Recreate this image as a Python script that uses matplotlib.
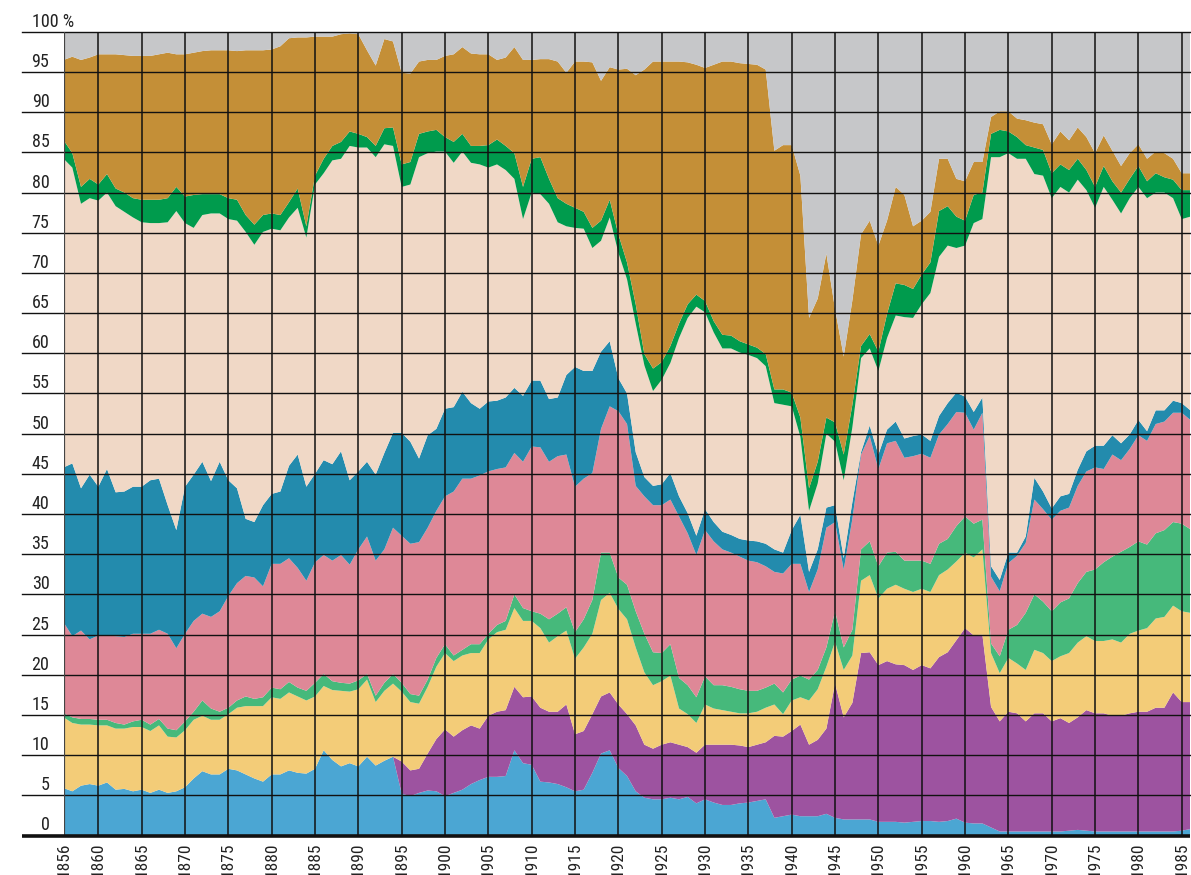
import os
import numpy as np
import matplotlib
matplotlib.use("Agg")
import matplotlib.pyplot as plt
import matplotlib.transforms as mtransforms
from matplotlib import font_manager

# roky 1856-1986
years = list(range(1856, 1987))

# horni hranice jednotlivych vrstev (kumulativne, v %)
top_light_blue = [
    5.9, 5.5, 6.2, 6.4, 6.2, 6.6, 5.7, 5.8, 5.5, 5.7,
    5.3, 5.7, 5.3, 5.5, 6.0, 7.1, 8.0, 7.6, 7.6, 8.3,
    8.1, 7.6, 7.1, 6.7, 7.6, 7.6, 8.1, 7.8, 7.7, 8.3,
    10.6, 9.4, 8.6, 9.0, 8.6, 9.8, 8.7, 9.3, 9.8, 5.2,
    4.9, 5.3, 5.6, 5.5, 4.9, 5.3, 5.7, 6.4, 6.9, 7.3,
    7.3, 7.4, 10.6, 9.0, 8.8, 6.7, 6.6, 6.4, 6.0, 5.5,
    5.7, 7.8, 10.2, 10.6, 8.4, 7.4, 5.5, 4.7, 4.5, 4.5,
    4.7, 4.5, 4.8, 4.0, 4.5, 4.1, 3.8, 3.8, 4.0, 4.1,
    4.3, 4.5, 2.2, 2.4, 2.6, 2.4, 2.4, 2.4, 2.7, 2.2,
    2.0, 2.0, 2.0, 2.0, 1.7, 1.7, 1.7, 1.6, 1.7, 1.8,
    1.8, 1.7, 1.8, 2.1, 1.6, 1.5, 1.5, 1.0, 0.5, 0.5,
    0.5, 0.5, 0.5, 0.5, 0.5, 0.5, 0.6, 0.7, 0.6, 0.5,
    0.5, 0.5, 0.5, 0.5, 0.5, 0.5, 0.5, 0.5, 0.5, 0.6,
    0.8,
]
# fialova vrstva zacina az v roce 1894
top_purple = top_light_blue[:38] + [
    9.8, 9.2,
    8.1, 8.3, 10.2, 12.0, 13.2, 12.3, 13.1, 13.7, 13.3, 14.9,
    15.4, 15.6, 18.5, 17.2, 17.3, 15.9, 15.4, 15.4, 16.3, 12.6,
    13.0, 15.1, 17.3, 17.8, 16.3, 15.1, 13.7, 11.3, 10.8, 11.3,
    11.6, 11.3, 11.0, 10.3, 11.3, 11.3, 11.3, 11.3, 11.2, 11.0,
    11.3, 11.6, 12.4, 12.3, 13.0, 13.8, 11.3, 11.9, 13.3, 18.9,
    14.7, 16.5, 22.7, 22.8, 21.2, 21.7, 21.3, 21.2, 20.6, 21.2,
    20.8, 22.2, 22.8, 24.3, 25.8, 24.9, 25.0, 16.0, 14.2, 15.4,
    15.2, 14.2, 15.2, 15.2, 14.2, 14.6, 14.0, 14.7, 15.6, 15.2,
    15.2, 14.9, 14.9, 15.2, 15.4, 15.4, 15.9, 15.9, 17.8, 16.6,
    16.6,
]
top_yellow = [
    14.7, 14.0, 13.8, 13.8, 13.7, 13.7, 13.3, 13.3, 13.5, 13.5,
    13.0, 13.7, 12.3, 12.2, 13.1, 14.4, 14.9, 14.4, 14.4, 15.1,
    15.9, 16.1, 16.1, 16.1, 17.2, 17.0, 17.8, 17.3, 16.8, 17.3,
    18.6, 18.1, 18.0, 17.9, 18.2, 19.4, 16.6, 18.0, 18.9, 17.9,
    16.6, 16.4, 18.5, 21.0, 22.7, 21.7, 22.4, 22.7, 22.7, 24.4,
    25.3, 25.6, 28.3, 26.7, 26.7, 25.8, 24.0, 24.8, 25.5, 22.0,
    23.4, 25.1, 29.3, 30.2, 28.2, 26.9, 23.4, 20.3, 18.7, 19.2,
    19.9, 15.8, 15.1, 14.0, 16.3, 15.8, 15.6, 15.4, 15.2, 15.2,
    15.4, 15.9, 16.3, 15.1, 16.8, 17.2, 16.8, 18.2, 21.0, 24.1,
    20.6, 22.4, 31.7, 32.4, 29.5, 30.7, 31.2, 30.7, 30.3, 30.7,
    30.3, 32.4, 33.1, 34.1, 35.2, 34.6, 35.6, 22.7, 20.2, 22.1,
    21.4, 20.6, 23.1, 22.7, 21.7, 22.3, 22.7, 24.0, 24.8, 24.2,
    24.2, 24.4, 24.0, 25.1, 25.5, 25.8, 27.0, 27.2, 28.6, 27.9,
    27.7,
]
top_light_green = [
    15.2, 14.7, 14.5, 14.5, 14.4, 14.4, 14.0, 13.8, 14.2, 14.4,
    13.8, 14.5, 13.3, 13.1, 14.2, 15.4, 16.8, 15.8, 15.4, 15.9,
    16.8, 17.3, 17.0, 17.2, 18.4, 18.2, 19.1, 18.4, 18.0, 19.0,
    20.1, 19.2, 19.0, 18.9, 19.3, 20.1, 17.4, 19.0, 20.1, 19.0,
    17.6, 17.4, 19.4, 22.1, 23.8, 22.4, 23.1, 23.8, 23.8, 25.1,
    26.2, 26.7, 30.0, 28.3, 27.9, 27.6, 26.9, 27.6, 28.4, 25.3,
    26.9, 29.3, 35.2, 35.2, 32.1, 31.2, 27.9, 25.1, 22.8, 22.7,
    23.8, 19.6, 18.7, 17.2, 19.8, 18.7, 18.7, 18.5, 18.2, 18.0,
    18.0, 18.4, 18.9, 17.8, 19.4, 19.9, 19.4, 20.6, 23.4, 27.9,
    23.4, 25.6, 35.6, 36.6, 33.5, 35.2, 35.3, 34.2, 34.2, 34.2,
    33.8, 36.3, 36.9, 38.5, 39.7, 38.8, 39.3, 23.9, 22.3, 25.6,
    26.2, 27.7, 30.0, 29.1, 27.9, 29.0, 29.5, 31.4, 32.8, 33.1,
    34.0, 34.7, 35.3, 35.9, 36.6, 36.2, 37.6, 38.0, 39.0, 38.8,
    38.1,
]
top_pink = [
    26.5, 24.8, 25.5, 24.4, 24.9, 24.9, 24.8, 24.7, 25.1, 25.1,
    25.1, 25.6, 25.1, 23.3, 25.1, 26.7, 27.6, 27.2, 27.9, 29.8,
    31.4, 32.3, 32.1, 31.0, 33.8, 33.8, 34.5, 33.3, 31.7, 34.0,
    34.9, 34.2, 34.9, 33.7, 35.6, 37.2, 34.2, 35.6, 38.3, 37.3,
    36.3, 36.5, 38.3, 40.4, 42.2, 42.8, 44.4, 44.4, 44.8, 45.3,
    45.6, 45.8, 47.6, 46.5, 48.4, 48.3, 46.5, 47.2, 47.4, 43.4,
    44.4, 45.1, 50.6, 53.4, 52.8, 51.2, 43.5, 42.2, 41.1, 41.1,
    41.8, 39.7, 37.6, 34.9, 38.0, 36.6, 35.6, 35.2, 34.7, 34.2,
    34.0, 33.5, 32.8, 32.6, 33.8, 33.8, 30.3, 33.1, 38.3, 39.0,
    33.1, 39.4, 47.4, 49.7, 45.6, 48.8, 49.1, 47.0, 47.2, 47.5,
    47.0, 49.9, 51.2, 52.7, 52.6, 50.5, 52.6, 32.2, 30.4, 33.9,
    34.8, 36.4, 41.8, 40.6, 39.3, 40.4, 40.8, 43.5, 45.3, 45.8,
    45.6, 47.4, 46.7, 48.1, 49.8, 49.1, 51.2, 51.5, 52.6, 52.6,
    51.7,
]
top_teal = [
    45.8, 46.3, 43.2, 44.9, 43.4, 45.6, 42.7, 42.8, 43.4, 43.4,
    44.2, 44.4, 41.1, 38.0, 43.4, 44.9, 46.5, 44.1, 46.5, 44.2,
    43.2, 39.4, 39.0, 41.1, 42.5, 42.8, 46.0, 47.4, 43.4, 45.0,
    46.7, 46.2, 47.8, 44.2, 45.3, 46.5, 44.9, 47.6, 50.1, 50.1,
    49.0, 46.9, 49.8, 50.6, 53.1, 53.3, 55.2, 53.8, 53.1, 54.0,
    54.1, 54.5, 55.7, 54.7, 56.6, 56.6, 54.3, 54.5, 57.3, 58.3,
    57.8, 57.8, 60.2, 61.5, 56.9, 55.0, 47.7, 44.6, 43.5, 43.7,
    45.1, 42.2, 40.1, 37.3, 40.6, 39.0, 37.8, 37.4, 36.9, 36.7,
    36.6, 36.3, 35.6, 35.2, 38.0, 39.9, 32.8, 35.6, 40.8, 41.1,
    34.5, 41.5, 47.7, 51.0, 47.4, 50.5, 51.5, 49.4, 49.7, 49.9,
    49.1, 52.2, 53.8, 55.1, 54.6, 52.7, 54.5, 33.5, 31.8, 35.2,
    35.2, 37.2, 44.5, 42.8, 40.7, 42.2, 42.5, 45.5, 47.8, 48.5,
    48.5, 49.8, 48.8, 49.9, 51.7, 50.3, 52.9, 52.9, 54.1, 53.8,
    52.9,
]
top_peach = [
    84.2, 83.1, 78.6, 79.3, 79.0, 80.0, 78.3, 77.6, 76.9, 76.3,
    76.2, 76.2, 76.3, 77.7, 76.2, 75.6, 77.2, 77.4, 77.4, 76.7,
    76.5, 75.1, 73.5, 75.1, 75.5, 75.3, 76.9, 78.1, 74.4, 81.0,
    82.4, 84.0, 84.2, 85.8, 85.6, 85.6, 84.4, 86.0, 85.8, 80.7,
    81.0, 84.4, 84.9, 85.1, 85.1, 83.7, 85.1, 83.7, 83.5, 83.1,
    83.5, 82.8, 81.7, 76.7, 80.0, 79.8, 78.6, 76.3, 75.8, 75.6,
    75.5, 73.1, 74.0, 76.9, 72.5, 69.2, 63.7, 58.5, 55.3, 56.7,
    58.8, 61.9, 64.4, 65.8, 65.1, 62.6, 60.6, 60.6, 60.1, 59.8,
    59.4, 58.4, 53.8, 53.6, 53.4, 49.6, 40.4, 43.8, 50.0, 49.0,
    44.2, 50.8, 59.4, 60.6, 57.8, 61.9, 64.7, 64.5, 64.4, 66.1,
    67.5, 72.0, 73.4, 73.1, 73.4, 76.2, 76.7, 84.4, 84.4, 84.9,
    84.2, 84.2, 82.3, 82.1, 79.3, 80.7, 80.0, 81.6, 80.3, 78.1,
    80.7, 79.1, 77.4, 79.3, 80.7, 79.3, 80.0, 80.0, 79.3, 76.7,
    77.0,
]
top_dark_green = [
    86.5, 84.9, 80.7, 81.7, 81.0, 82.3, 80.5, 80.0, 79.3, 79.1,
    79.1, 79.1, 79.3, 80.7, 79.5, 79.7, 79.8, 79.8, 79.8, 79.3,
    79.1, 77.2, 76.0, 77.2, 77.4, 77.2, 78.8, 80.5, 75.8, 82.1,
    84.2, 85.8, 86.3, 87.6, 87.3, 86.9, 85.8, 88.0, 88.1, 83.5,
    83.8, 87.3, 87.6, 87.8, 86.9, 86.3, 87.3, 85.8, 85.8, 85.9,
    86.6, 85.8, 84.9, 80.7, 84.2, 84.4, 81.7, 79.3, 78.6, 78.1,
    77.6, 75.6, 76.5, 79.1, 74.8, 71.3, 66.1, 59.9, 58.1, 58.9,
    60.9, 63.7, 66.1, 67.3, 66.5, 64.0, 62.3, 62.2, 61.5, 61.1,
    60.7, 59.9, 55.5, 55.5, 55.1, 52.0, 43.2, 46.5, 52.0, 51.4,
    47.4, 53.6, 60.9, 62.4, 60.2, 64.9, 68.7, 68.5, 68.0, 69.8,
    71.3, 77.7, 78.3, 77.0, 76.5, 79.7, 80.0, 87.3, 87.8, 87.6,
    86.9, 85.9, 85.6, 85.3, 82.4, 83.5, 82.8, 84.2, 82.8, 80.7,
    83.3, 81.4, 80.0, 81.7, 83.3, 81.4, 82.4, 81.9, 81.6, 80.3,
    80.3,
]
top_gold = [
    96.5, 96.9, 96.5, 96.8, 97.2, 97.2, 97.2, 97.1, 97.0, 97.0,
    97.0, 97.2, 97.4, 97.2, 97.2, 97.4, 97.6, 97.7, 97.7, 97.7,
    97.6, 97.7, 97.7, 97.7, 97.8, 98.2, 99.2, 99.3, 99.3, 99.4,
    99.4, 99.4, 99.7, 99.8, 99.7, 97.7, 95.8, 99.1, 98.8, 94.9,
    94.8, 96.3, 96.5, 96.5, 97.0, 97.2, 98.1, 97.3, 97.2, 97.2,
    96.5, 96.8, 98.1, 96.5, 96.5, 96.6, 96.6, 96.3, 94.9, 96.3,
    96.3, 96.2, 93.9, 95.6, 95.3, 95.4, 94.6, 95.3, 96.3, 96.3,
    96.3, 96.3, 96.2, 95.9, 95.5, 95.9, 96.3, 96.3, 96.1, 96.0,
    95.9, 95.3, 85.2, 85.9, 85.9, 82.1, 64.4, 66.8, 72.4, 65.5,
    59.6, 66.6, 74.8, 76.5, 73.4, 76.5, 80.7, 79.7, 75.8, 76.5,
    77.6, 84.2, 84.2, 81.7, 81.4, 83.8, 83.8, 89.4, 90.1, 90.1,
    89.2, 89.0, 88.7, 88.5, 86.0, 87.6, 86.5, 88.1, 86.9, 84.9,
    87.1, 85.2, 83.3, 84.9, 86.0, 84.2, 85.1, 84.9, 84.2, 82.4,
    82.4,
]

layer_colors = [
    "#4ba6d3",  # svetle modra
    "#9d53a0",  # fialova
    "#f3cc78",  # zluta
    "#46b97b",  # svetle zelena
    "#de8897",  # ruzova
    "#238bad",  # tmave modra
    "#f0d8c6",  # bezova
    "#009b4d",  # tmave zelena
    "#c48f37",  # okrova
    "#c6c7c9",  # seda (zbytek do 100 %)
]

x_ticks = [1856] + list(range(1860, 1986, 5))
y_ticks = list(range(0, 101, 5))


def pick_font():
    """Najde uzke (condensed/narrow) bezpatkove pismo, jinak vrati None."""
    wanted = ["notosans-condensed.ttf", "liberationsansnarrow-regular.ttf",
              "robotocondensed-regular.ttf", "opensans-condensedregular.ttf",
              "dejavusanscondensed.ttf"]
    files = {os.path.basename(f.fname).lower(): f.fname for f in font_manager.fontManager.ttflist}
    for w in wanted:
        if w in files:
            return files[w]
    for f in font_manager.fontManager.ttflist:
        fn = os.path.basename(f.fname).lower()
        if ("condensed" in fn or "narrow" in fn) and "bold" not in fn and "italic" not in fn \
                and "light" not in fn and "medium" not in fn and "semi" not in fn \
                and "extra" not in fn and "black" not in fn and "thin" not in fn:
            return f.fname
    return None


font_file = pick_font()
if font_file:
    fp_y = font_manager.FontProperties(fname=font_file, size=13)
    fp_x = font_manager.FontProperties(fname=font_file, size=12.5)
else:
    fp_y = font_manager.FontProperties(family="DejaVu Sans", size=11)
    fp_x = font_manager.FontProperties(family="DejaVu Sans", size=10)

# prevod kumulativnich hranic na podily jednotlivych vrstev
bounds = np.array([top_light_blue, top_purple, top_yellow, top_light_green, top_pink,
                   top_teal, top_peach, top_dark_green, top_gold])
full = np.vstack([np.zeros(len(years)), bounds, np.full(len(years), 100.0)])
shares = np.maximum(np.diff(full, axis=0), 0)

W, H = 1191, 875
fig = plt.figure(figsize=(W / 100, H / 100), dpi=100)
x0, x1 = 63.67, 1190.4
y0, y1 = 835.5, 31.8
ax = fig.add_axes([x0 / W, (H - y0) / H, (x1 - x0) / W, (y0 - y1) / H])

ax.stackplot(years, shares, colors=layer_colors, linewidth=0, zorder=1)
ax.set_xlim(1856, 1986)
ax.set_ylim(0, 100)
for s in ax.spines.values():
    s.set_visible(False)
ax.set_xticks([])
ax.set_yticks([])

# mrizka pres plochy
ytr = ax.get_yaxis_transform()
ext = (22 - x0) / (x1 - x0)
for v in y_ticks[1:]:
    ax.plot([ext, 1], [v, v], transform=ytr, color="#111111", lw=1.0, zorder=3, clip_on=False)
ax.plot([ext, 1], [0, 0], transform=ytr, color="#111111", lw=2.6, zorder=4, clip_on=False,
        solid_capstyle="butt")
for yr in x_ticks:
    ax.plot([yr, yr], [0, 100], color="#444444" if yr == 1856 else "#111111",
            lw=1.6 if yr == 1856 else 1.1, zorder=3)

# popisky osy y
lab_tr = mtransforms.offset_copy(ytr, fig=fig, x=(49.5 - x0), y=5, units="dots")
for v in y_ticks[:-1]:
    ax.text(0, v, str(v), transform=lab_tr, ha="right", va="baseline",
            fontproperties=fp_y, color="#222222")
top_tr = mtransforms.offset_copy(ytr, fig=fig, x=(32 - x0), y=5, units="dots")
ax.text(0, 100, "100 %", transform=top_tr, ha="left", va="baseline",
        fontproperties=fp_y, color="#222222")

# popisky osy x
xtr = mtransforms.offset_copy(ax.get_xaxis_transform(), fig=fig, x=0, y=-7, units="dots")
for yr in x_ticks:
    ax.text(yr, 0, str(yr), transform=xtr, rotation=90, ha="center", va="top",
            fontproperties=fp_x, color="#222222")

fig.savefig("out.png", dpi=100)
